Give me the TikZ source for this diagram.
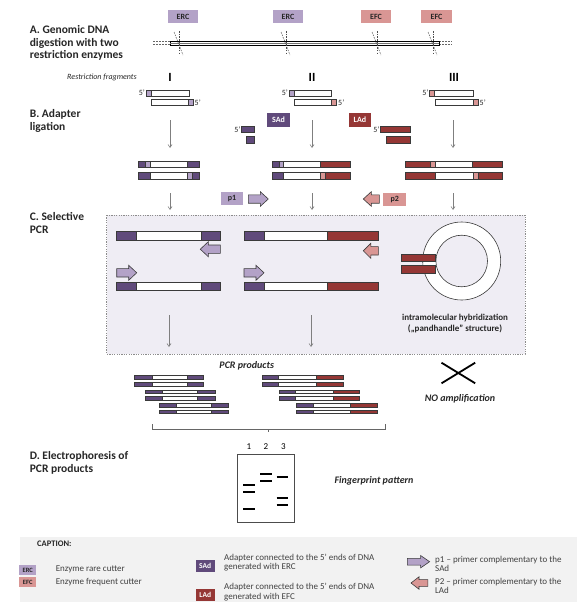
\documentclass[tikz,border=0pt]{standalone}
\usepackage{fontspec}
\setmainfont{Carlito}
\usetikzlibrary{arrows.meta}
\definecolor{ercC}{HTML}{B3A2C7}
\definecolor{efcC}{HTML}{D99694}
\definecolor{sadC}{HTML}{604A7B}
\definecolor{ladC}{HTML}{953735}
\definecolor{boxbg}{HTML}{EFEDF4}
\definecolor{capbg}{HTML}{F2F2F2}
\definecolor{hdrcol}{HTML}{262626}
\definecolor{capcol}{HTML}{404040}
\definecolor{edge}{HTML}{3A3A3A}
\definecolor{arrcol}{HTML}{7F7F7F}
\newcommand{\dseg}[5]{\draw[seg,fill=#5] (#1,#3) rectangle (#2,#4);}
\newcommand{\primer}[8]{\draw[primline,fill=#8] (#1,#2-#6) -- ({#1+(#3)*(#4-#5)},#2-#6) -- ({#1+(#3)*(#4-#5)},#2-#7) -- ({#1+(#3)*(#4)},#2) -- ({#1+(#3)*(#4-#5)},#2+#7) -- ({#1+(#3)*(#4-#5)},#2+#6) -- (#1,#2+#6) -- cycle;}
\tikzset{
  seg/.style={draw=edge,line width=0.6pt},
  thinseg/.style={draw=edge,line width=0.45pt},
  primline/.style={draw=edge,line width=0.6pt,line join=miter},
  hdr/.style={font=\bfseries\fontsize{11.5}{12.6}\selectfont,align=left,anchor=west,text=hdrcol,inner sep=0pt},
  ibig/.style={font=\bfseries\itshape\fontsize{10}{12}\selectfont,text=hdrcol,inner sep=0pt},
  tag/.style={font=\bfseries\fontsize{8}{9}\selectfont,minimum width=#1,minimum height=13.3pt,inner sep=0pt},
  tag/.default=22.5pt,
  five/.style={font=\fontsize{8}{9}\selectfont,inner sep=0.5pt,text=hdrcol},
  dnarrow/.style={draw=arrcol,line width=0.6pt,-{Straight Barb[length=3pt,width=4pt]}},
  cut/.style={draw=black!70,line width=0.5pt,dash pattern=on 1.6pt off 1.1pt},
  capt/.style={font=\fontsize{9}{9.3}\selectfont,align=left,anchor=west,text=capcol,inner sep=0pt},
  captag/.style={font=\bfseries\fontsize{6.5}{7}\selectfont,minimum width=16.7pt,minimum height=10pt,inner sep=0pt},
  band/.style={line width=2pt,draw=black},
  roman/.style={font=\bfseries\fontsize{12.5}{13}\selectfont,inner sep=0pt},
}
\begin{document}
\begin{tikzpicture}[x=1pt,y=-1pt]
\useasboundingbox (0,0) rectangle (577,602);
% backgrounds
\fill[capbg] (20,536.5) rectangle (577,602);
\draw[fill=boxbg,draw=black!45,line width=0.7pt,dash pattern=on 1.2pt off 1.2pt] (106.7,215) rectangle (525,354);

% ---------- A ----------
\node[hdr] (hA) at (29.6,43) {A. Genomic DNA\\digestion with two\\restriction enzymes};
\node[tag=29.6pt,fill=ercC,text=hdrcol] (erc1) at (183,16.5) {ERC};
\node[tag=29.6pt,fill=ercC,text=hdrcol] (erc2) at (288,16.5) {ERC};
\node[tag=29.6pt,fill=efcC,text=hdrcol] (efc1) at (376,16.5) {EFC};
\node[tag=30.5pt,fill=efcC,text=hdrcol] (efc2) at (436.5,16.5) {EFC};
\draw[black!60,line width=0.6pt,dash pattern=on 2pt off 1pt] (153,41.6) -- (170,41.6) (153,44.6) -- (170,44.6) (439,41.6) -- (452,41.6) (439,44.6) -- (452,44.6);
\draw[fill=white,draw=black,line width=0.8pt] (170,41) rectangle (439,45.3);
\draw[black!55,line width=0.8pt] (170,43.2) -- (439,43.2);
\foreach \c in {179,286,377,433}{
  \draw[cut] (\c,31) -- (\c,53);
  \draw[cut] (\c-5,32) -- (\c+4,55);
}
\node[font=\itshape\fontsize{8}{9}\selectfont,text=hdrcol,inner sep=0pt] (rf) at (102,77) {Restriction fragments};
\node[roman] (n1) at (170,77) {I};
\node[roman] (n2) at (312,77) {II};
\node[roman] (n3) at (454,77) {III};

% fragments
\dseg{146}{189}{90}{96}{white}\dseg{146}{151}{90}{96}{ercC}
\dseg{151}{193}{99.5}{105.5}{white}\dseg{188}{193}{99.5}{105.5}{ercC}
\node[five,anchor=east] (f1a) at (145.5,92.5) {5’};
\node[five,anchor=west] (f1b) at (194,102.5) {5’};
\dseg{289}{331.5}{90}{96}{white}\dseg{289}{294}{90}{96}{ercC}
\dseg{294.5}{336.5}{99.5}{105.5}{white}\dseg{331.5}{336.5}{99.5}{105.5}{efcC}
\node[five,anchor=east] (f2a) at (288.5,92.5) {5’};
\node[five,anchor=west] (f2b) at (337.5,102.5) {5’};
\dseg{429.5}{473}{90}{96}{white}\dseg{429.5}{434.5}{90}{96}{efcC}
\dseg{435}{478}{99.5}{105.5}{white}\dseg{473}{478}{99.5}{105.5}{efcC}
\node[five,anchor=east] (f3a) at (429,92.5) {5’};
\node[five,anchor=west] (f3b) at (479,102.5) {5’};

% ---------- B ----------
\node[hdr] (hB) at (29.6,121) {B. Adapter\\ligation};
\foreach \x/\n in {170/1,312/2,453/3}{
  \coordinate (b\n s) at (\x,120); \coordinate (b\n e) at (\x,148);
  \draw[dnarrow] (b\n s) -- (b\n e);
  \coordinate (c\n s) at (\x,193); \coordinate (c\n e) at (\x,210);
  \draw[dnarrow] (c\n s) -- (c\n e);
}
\node[tag=22.2pt,fill=sadC,text=white] (sad) at (278.5,120) {SAd};
\node[tag=22.2pt,fill=ladC,text=white] (lad) at (360,120) {LAd};
\dseg{241.5}{254}{126}{132.5}{sadC}\dseg{246.5}{254}{136.5}{143}{sadC}
\node[five,anchor=east] (s5) at (241,129.5) {5’};
\dseg{380.5}{410.5}{126}{132.5}{ladC}\dseg{386}{410.5}{136.5}{143}{ladC}
\node[five,anchor=east] (l5) at (380,129.5) {5’};

% ligated I
\dseg{138.5}{145}{161}{167.5}{sadC}\dseg{145}{150}{161}{167.5}{ercC}\dseg{150}{187.5}{161}{167.5}{white}\dseg{187.5}{199}{161}{167.5}{sadC}
\dseg{138.5}{150}{172.5}{179}{sadC}\dseg{150}{187.5}{172.5}{179}{white}\dseg{187.5}{192}{172.5}{179}{ercC}\dseg{192}{199}{172.5}{179}{sadC}
% ligated II
\dseg{272}{279}{161}{167.5}{sadC}\dseg{279}{283.5}{161}{167.5}{ercC}\dseg{283.5}{320}{161}{167.5}{white}\dseg{320}{350.5}{161}{167.5}{ladC}
\dseg{272}{283.5}{172.5}{179}{sadC}\dseg{283.5}{320.5}{172.5}{179}{white}\dseg{320.5}{325}{172.5}{179}{efcC}\dseg{325}{350.5}{172.5}{179}{ladC}
% ligated III
\dseg{405.5}{430.5}{161}{167.5}{ladC}\dseg{430.5}{435}{161}{167.5}{efcC}\dseg{435}{472}{161}{167.5}{white}\dseg{472}{502}{161}{167.5}{ladC}
\dseg{405.5}{435}{172.5}{179}{ladC}\dseg{435}{473}{172.5}{179}{white}\dseg{473}{478}{172.5}{179}{efcC}\dseg{478}{502}{172.5}{179}{ladC}

% ---------- C ----------
\node[hdr] (hC) at (29.6,223) {C. Selective\\PCR};
\node[tag,fill=ercC,text=hdrcol] (p1) at (232,198.3) {p1};
\primer{248.3}{199}{1}{20}{8}{4.2}{7.3}{ercC}
\primer{379.3}{199}{-1}{16}{8}{4.2}{7.3}{efcC}
\node[tag,fill=efcC,text=hdrcol] (p2) at (394.7,199.3) {p2};

% PCR I
\dseg{116.7}{136.7}{231.7}{240}{sadC}\dseg{136.7}{201}{231.7}{240}{white}\dseg{201}{220.7}{231.7}{240}{sadC}
\primer{220.3}{249.2}{-1}{20}{8}{4.2}{7.5}{ercC}
\primer{116.7}{272.8}{1}{20}{8}{4.2}{7.5}{ercC}
\dseg{116.7}{136.7}{282.3}{290.7}{sadC}\dseg{136.7}{201}{282.3}{290.7}{white}\dseg{201}{220.7}{282.3}{290.7}{sadC}
% PCR II
\dseg{244}{264}{231.7}{240}{sadC}\dseg{264}{327.7}{231.7}{240}{white}\dseg{327.7}{378.3}{231.7}{240}{ladC}
\primer{378.3}{250.8}{-1}{15}{7.5}{4.2}{7.5}{efcC}
\primer{244}{272.8}{1}{20}{8}{4.2}{7.5}{ercC}
\dseg{244}{264}{282.3}{290.7}{sadC}\dseg{264}{327.7}{282.3}{290.7}{white}\dseg{327.7}{378.3}{282.3}{290.7}{ladC}
% pandhandle
\draw[seg,fill=white,even odd rule] (461.7,261) circle (39pt) (461.7,261) circle (25.8pt);
\dseg{401}{435.7}{254}{261.7}{ladC}
\dseg{401}{435.7}{265}{273.3}{ladC}
\node[font=\bfseries\fontsize{9}{10.7}\selectfont,align=center,text=hdrcol,inner sep=0pt] (ph) at (455,323.7) {intramolecular hybridization\\(„pandhandle” structure)};
\coordinate (d1s) at (169,315); \coordinate (d1e) at (169,347);
\coordinate (d2s) at (311,315); \coordinate (d2e) at (311,347);
\draw[dnarrow] (d1s) -- (d1e);
\draw[dnarrow] (d2s) -- (d2e);

% PCR products
\node[ibig] (pp) at (246.7,365.7) {PCR products};
\foreach \ya/\yb/\xa/\xb/\xc/\xd in {375.7/379.2/134.4/151.9/187/203.7, 382.3/385.8/134.4/151.9/187/203.7, 390/393.5/145.6/162.2/197.4/214.8, 396.7/400.2/145.6/162.2/197.4/214.8, 403.3/406.8/159.3/176/211/228.5, 410/413.5/159.3/176/211/228.5}{
  \draw[thinseg,fill=sadC] (\xa,\ya) rectangle (\xb,\yb);
  \draw[thinseg,fill=white] (\xb,\ya) rectangle (\xc,\yb);
  \draw[thinseg,fill=sadC] (\xc,\ya) rectangle (\xd,\yb);
}
\foreach \ya/\yb/\xa/\xb/\xc/\xd in {375.7/379.2/262.2/278.5/316.7/343, 382.3/385.8/262.2/278.5/316.7/343, 390/393.5/278.9/295.6/333.3/359.3, 396.7/400.2/278.9/295.6/333.3/359.3, 403.3/406.8/296.3/313/350.7/377, 410/413.5/296.3/313/350.7/377}{
  \draw[thinseg,fill=sadC] (\xa,\ya) rectangle (\xb,\yb);
  \draw[thinseg,fill=white] (\xb,\ya) rectangle (\xc,\yb);
  \draw[thinseg,fill=ladC] (\xc,\ya) rectangle (\xd,\yb);
}
\draw[line width=1.8pt,black] (441.5,362.7) -- (475.2,383.3) (441.5,383.3) -- (475.2,362.7);
\node[ibig] (noamp) at (460,398.3) {NO amplification};
\draw[black!60,line width=0.7pt] (152,424) -- (152,429) -- (385,429) -- (385,424);
\draw[black!60,line width=0.7pt] (268.5,429) -- (268.5,432);

% ---------- D ----------
\node[hdr] (hD) at (29.6,463) {D. Electrophoresis of\\PCR products};
\node[font=\fontsize{9}{10}\selectfont,inner sep=0pt] (l1) at (249,446.7) {1};
\node[font=\fontsize{9}{10}\selectfont,inner sep=0pt] (l2) at (266,446.7) {2};
\node[font=\fontsize{9}{10}\selectfont,inner sep=0pt] (l3) at (283.3,446.7) {3};
\draw[draw=black!70,line width=0.6pt] (237,454) rectangle (294.4,522.3);
\foreach \y in {485,491.7,509}{\draw[band] (243.3,\y) -- (254.8,\y);}
\foreach \y in {474.3,481}{\draw[band] (260,\y) -- (271.5,\y);}
\foreach \y in {477.3,498.3,505}{\draw[band] (276.7,\y) -- (287.8,\y);}
\node[ibig] (fp) at (374,481) {Fingerprint pattern};

% ---------- caption ----------
\node[font=\bfseries\fontsize{8.5}{9}\selectfont,anchor=west,text=hdrcol,inner sep=0pt] (cap) at (37,544) {CAPTION:};
\node[captag,fill=ercC,text=hdrcol] (cerc) at (27.7,570) {ERC};
\node[captag,fill=efcC,text=hdrcol] (cefc) at (27.7,582) {EFC};
\node[capt] (terc) at (55.6,569.3) {Enzyme rare cutter};
\node[capt] (tefc) at (55.6,581.7) {Enzyme frequent cutter};
\node[captag,fill=sadC,text=white,minimum width=19.2pt,minimum height=11.7pt,font=\bfseries\fontsize{7.5}{8}\selectfont] (csad) at (205.2,565.8) {SAd};
\node[captag,fill=ladC,text=white,minimum width=19.2pt,minimum height=11.7pt,font=\bfseries\fontsize{7.5}{8}\selectfont] (clad) at (205.2,594.7) {LAd};
\node[capt] (tsad) at (224,562.8) {Adapter connected to the 5’ ends of DNA\\generated with ERC};
\node[capt] (tlad) at (224,592.2) {Adapter connected to the 5’ ends of DNA\\generated with EFC};
\primer{407.4}{561.7}{1}{22.2}{9}{3.4}{6.2}{ercC}
\primer{427.8}{583}{-1}{16.8}{8}{3.4}{6.2}{efcC}
\node[capt] (tp1) at (435,564.2) {p1 – primer complementary to the\\SAd};
\node[capt] (tp2) at (435,586.2) {P2 – primer complementary to the\\LAd};
\end{tikzpicture}
\end{document}
